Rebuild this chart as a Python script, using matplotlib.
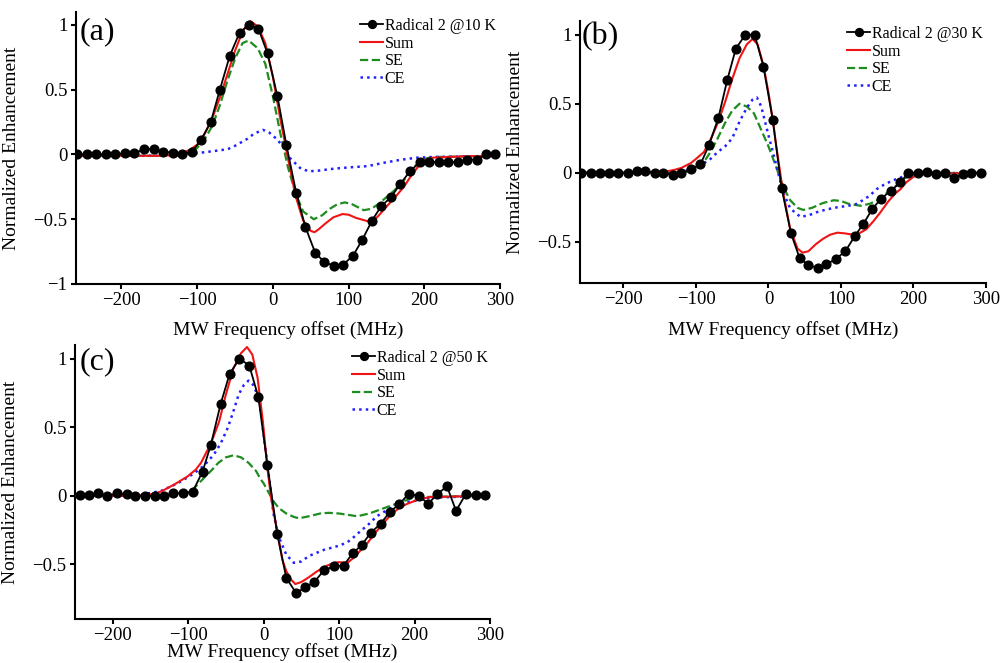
import matplotlib
matplotlib.use("Agg")
import matplotlib.pyplot as plt

plt.rcParams['font.family'] = ['Liberation Serif', 'DejaVu Serif']
plt.rcParams['mathtext.fontset'] = 'stix'

# ---------------- Panel (a): 10 K ----------------
exp_a_x = [-259, -246, -233, -221, -208, -195, -183, -170, -157, -145, -132, -120, -107, -95, -82,
           -70, -57, -44, -32, -19, -7, 6, 18, 31, 43, 56, 68, 81, 93, 106, 118, 131, 143, 156,
           168, 181, 194, 206, 219, 231, 244, 256, 269, 282, 294]
exp_a_y = [0, 0, 0, 0, 0, 0.01, 0.01, 0.04, 0.045, 0.02, 0.015, 0, 0.02, 0.11, 0.25,
           0.5, 0.76, 0.94, 1.0, 0.97, 0.78, 0.45, 0.07, -0.3, -0.56, -0.76, -0.83, -0.86, -0.85,
           -0.78, -0.66, -0.51, -0.40, -0.33, -0.23, -0.13, -0.06, -0.06, -0.06, -0.06, -0.06,
           -0.04, -0.04, 0, 0]

sum_a_x = [-260, -200, -150, -130, -120, -110, -100, -90, -80, -70, -60, -50, -40, -30, -20, -10,
           0, 10, 20, 30, 40, 50, 55, 60, 70, 80, 92, 100, 110, 125, 135, 140, 152, 160, 173, 182,
           191, 200, 210, 250, 300]
sum_a_y = [-0.01, -0.01, -0.01, -0.005, 0.01, 0.035, 0.075, 0.16, 0.28, 0.44, 0.62, 0.8, 0.95,
           1.03, 0.99, 0.86, 0.6, 0.27, -0.03, -0.32, -0.51, -0.59, -0.6, -0.58, -0.53, -0.485,
           -0.46, -0.465, -0.49, -0.515, -0.5, -0.47, -0.39, -0.34, -0.25, -0.17, -0.1, -0.045,
           -0.025, -0.015, -0.01]

se_a_x = [-260, -120, -110, -100, -90, -80, -70, -60, -50, -40, -32, -20, -10, 0, 10, 20, 30, 40,
          54, 65, 75, 85, 95, 105, 120, 130, 140, 150, 160, 173, 182, 191, 200, 210, 300]
se_a_y = [-0.01, -0.01, 0.01, 0.05, 0.12, 0.22, 0.38, 0.57, 0.74, 0.86, 0.88, 0.82, 0.7, 0.45,
          0.16, -0.1, -0.3, -0.44, -0.5, -0.47, -0.42, -0.385, -0.37, -0.385, -0.43, -0.42,
          -0.38, -0.33, -0.28, -0.2, -0.13, -0.07, -0.035, -0.02, -0.01]

ce_a_x = [-260, -150, -120, -100, -80, -60, -52, -40, -34, -25, -13, -5, 5, 15, 23, 37, 48, 60,
          80, 100, 125, 150, 170, 190, 210, 300]
ce_a_y = [-0.01, -0.01, 0, 0.01, 0.025, 0.04, 0.06, 0.1, 0.12, 0.16, 0.19, 0.17, 0.12, 0.05,
          -0.03, -0.11, -0.13, -0.125, -0.11, -0.1, -0.09, -0.06, -0.04, -0.025, -0.02, -0.01]

# ---------------- Panel (b): 30 K ----------------
exp_b_x = [-258, -245, -232, -220, -207, -194, -182, -170, -157, -145, -132, -120, -107, -94, -82,
           -69, -57, -45, -32, -19, -7, 6, 18, 31, 43, 55, 68, 80, 93, 106, 119, 131, 143, 155,
           169, 182, 193, 206, 218, 231, 244, 256, 268, 280, 293]
exp_b_y = [0, 0, 0, 0, 0, 0, 0.01, 0.01, 0, -0.005, -0.015, 0, 0.025, 0.06, 0.2, 0.4, 0.67, 0.9,
           1.0, 1.0, 0.77, 0.38, -0.11, -0.44, -0.62, -0.67, -0.69, -0.665, -0.625, -0.57, -0.46,
           -0.37, -0.265, -0.19, -0.13, -0.07, 0, 0, 0.005, -0.007, -0.005, -0.04, -0.007, 0, 0]

sum_b_x = [-260, -160, -140, -130, -120, -107, -100, -89, -80, -70, -60, -50, -40, -30, -22, -15,
           -7, 0, 6, 10, 20, 30, 40, 47, 55, 65, 75, 85, 95, 105, 117, 125, 135, 145, 154, 165,
           175, 182, 190, 200, 209, 230, 300]
sum_b_y = [0, 0, 0.01, 0.02, 0.035, 0.07, 0.1, 0.15, 0.24, 0.36, 0.51, 0.68, 0.83, 0.93, 0.97,
           0.93, 0.78, 0.58, 0.38, 0.22, -0.14, -0.41, -0.55, -0.58, -0.57, -0.52, -0.48, -0.45,
           -0.435, -0.44, -0.45, -0.44, -0.41, -0.35, -0.29, -0.21, -0.15, -0.12, -0.07, -0.03,
           -0.01, -0.005, -0.005]

se_b_x = [-260, -120, -110, -100, -90, -80, -70, -60, -50, -40, -30, -20, -10, 0, 10, 20, 30,
          40, 48, 60, 75, 90, 100, 110, 127, 140, 150, 164, 175, 185, 195, 210, 300]
se_b_y = [0, 0, 0.01, 0.03, 0.07, 0.15, 0.25, 0.36, 0.45, 0.5, 0.48, 0.43, 0.31, 0.19, 0.05,
          -0.1, -0.2, -0.255, -0.27, -0.255, -0.22, -0.2, -0.205, -0.225, -0.24, -0.225, -0.2,
          -0.145, -0.1, -0.05, -0.02, -0.005, 0]

ce_b_x = [-260, -130, -120, -110, -100, -90, -80, -70, -60, -50, -40, -30, -22, -16, -10, 0, 10,
          20, 30, 44, 55, 70, 90, 110, 120, 130, 140, 149, 160, 172, 185, 200, 220, 300]
ce_b_y = [0, 0, 0.01, 0.02, 0.04, 0.065, 0.1, 0.15, 0.19, 0.25, 0.37, 0.47, 0.53, 0.545, 0.48,
          0.27, 0.07, -0.14, -0.26, -0.32, -0.31, -0.28, -0.255, -0.24, -0.23, -0.2, -0.165,
          -0.12, -0.085, -0.055, -0.03, -0.015, -0.005, 0]

# ---------------- Panel (c): 50 K ----------------
exp_c_x = [-244, -232, -219, -207, -194, -181, -170, -157, -144, -132, -120, -107, -94, -81, -70,
           -57, -45, -32, -19, -7, 5, 18, 30, 43, 55, 67, 80, 93, 106, 118, 130, 142, 155, 167,
           180, 192, 206, 218, 230, 243, 255, 268, 281, 294]
exp_c_y = [0.005, 0.007, 0.017, 0, 0.017, 0.01, 0, 0, -0.005, -0.005, 0.017, 0.017, 0.03, 0.175,
           0.37, 0.67, 0.89, 1.0, 0.95, 0.72, 0.225, -0.28, -0.6, -0.71, -0.67, -0.63, -0.545,
           -0.515, -0.51, -0.42, -0.36, -0.27, -0.205, -0.12, -0.06, 0.012, 0, -0.06, 0.012,
           0.068, -0.11, 0.012, 0.005, 0.007]

sum_c_x = [-250, -170, -150, -136, -119, -101, -90, -83, -70, -59, -50, -40, -30, -22, -15, -8,
           -1, 5, 10, 16, 25, 30, 36, 42, 50, 60, 70, 80, 93, 100, 111, 120, 130, 137, 148, 159,
           170, 181, 190, 204, 220, 300]
sum_c_y = [0, 0, 0.01, 0.03, 0.08, 0.14, 0.19, 0.24, 0.38, 0.54, 0.74, 0.93, 1.04, 1.085, 1.03,
           0.86, 0.54, 0.2, -0.02, -0.2, -0.47, -0.55, -0.61, -0.645, -0.63, -0.595, -0.555,
           -0.52, -0.49, -0.485, -0.49, -0.45, -0.39, -0.35, -0.27, -0.2, -0.13, -0.085, -0.06,
           -0.03, -0.01, 0]

se_c_x = [-250, -110, -100, -93, -79, -70, -60, -50, -40, -30, -20, -10, -4, 0, 5, 13, 20, 30,
          40, 47, 60, 75, 86, 100, 112, 124, 140, 155, 170, 181, 195, 210, 300]
se_c_y = [0, 0, 0.02, 0.05, 0.13, 0.18, 0.24, 0.28, 0.295, 0.28, 0.24, 0.18, 0.12, 0.09, 0.04,
          -0.04, -0.09, -0.13, -0.155, -0.165, -0.15, -0.13, -0.125, -0.13, -0.14, -0.15,
          -0.13, -0.1, -0.07, -0.05, -0.02, -0.01, 0]

ce_c_x = [-250, -180, -160, -136, -114, -93, -79, -66, -57, -48, -41, -33, -26, -20, -14, -6, 5,
          13, 20, 30, 40, 50, 60, 80, 100, 111, 120, 130, 137, 150, 168, 185, 204, 220, 300]
ce_c_y = [0, 0, 0.01, 0.035, 0.09, 0.16, 0.22, 0.3, 0.38, 0.49, 0.6, 0.74, 0.81, 0.84, 0.81,
          0.71, 0.23, -0.13, -0.3, -0.43, -0.49, -0.48, -0.44, -0.395, -0.365, -0.34, -0.3,
          -0.25, -0.22, -0.15, -0.09, -0.05, -0.035, -0.015, 0]

# ---------------- labels / ticks ----------------
exp_labels = ['Radical 2 @10 K', 'Radical 2 @30 K', 'Radical 2 @50 K']
model_labels = ['Sum', 'SE', 'CE']
panel_tags = ['(a)', '(b)', '(c)']
x_ticks = [-200, -100, 0, 100, 200, 300]
x_ticklabels = ['\u2212200', '\u2212100', '0', '100', '200', '300']
y_ticks_a = [-1, -0.5, 0, 0.5, 1]
y_ticklabels_a = ['\u22121', '\u22120.5', '0', '0.5', '1']
y_ticks_bc = [-0.5, 0, 0.5, 1]
y_ticklabels_bc = ['\u22120.5', '0', '0.5', '1']
xlabel = 'MW Frequency offset (MHz)'
ylabel = 'Normalized Enhancement'

W, H = 1003, 663
fig = plt.figure(figsize=(W / 100, H / 100), dpi=100)

def px_rect(l, t, r, b):
    return [l / W, 1 - b / H, (r - l) / W, (b - t) / H]

panels = [
    dict(rect=px_rect(76, 12, 500, 284), xlim=(-260, 300), ylim=(-1, 1.1),
         yt=y_ticks_a, ytl=y_ticklabels_a,
         data=(exp_a_x, exp_a_y, sum_a_x, sum_a_y, se_a_x, se_a_y, ce_a_x, ce_a_y),
         leg=(360, 18), tag=(80, 17), ylc=-0.132, xlc=-0.137),
    dict(rect=px_rect(580, 21, 986, 283), xlim=(-260, 300), ylim=(-0.8, 1.1),
         yt=y_ticks_bc, ytl=y_ticklabels_bc,
         data=(exp_b_x, exp_b_y, sum_b_x, sum_b_y, se_b_x, se_b_y, ce_b_x, ce_b_y),
         leg=(847, 26), tag=(582, 22), ylc=-0.138, xlc=-0.146),
    dict(rect=px_rect(75, 345, 490, 619), xlim=(-250, 300), ylim=(-0.9, 1.1),
         yt=y_ticks_bc, ytl=y_ticklabels_bc,
         data=(exp_c_x, exp_c_y, sum_c_x, sum_c_y, se_c_x, se_c_y, ce_c_x, ce_c_y),
         leg=(352, 350), tag=(80, 347), ylc=-0.134, xlc=-0.088),
]

c_red = '#f01414'
c_green = '#1e8c1e'
c_blue = '#2222ff'

for i, p in enumerate(panels):
    ax = fig.add_axes(p['rect'])
    ex, ey, sx, sy, gx, gy, bx, by = p['data']
    ax.plot(gx, gy, linestyle='--', color=c_green, lw=1.6, zorder=2, label=model_labels[1])
    ax.plot(bx, by, linestyle=':', color=c_blue, lw=1.8, zorder=2, label=model_labels[2])
    ax.plot(sx, sy, linestyle='-', color=c_red, lw=1.5, zorder=3, label=model_labels[0])
    ax.plot(ex, ey, '-o', color='black', lw=1.3, ms=6.3, zorder=4, label=exp_labels[i])
    ax.set_xlim(*p['xlim'])
    ax.set_ylim(*p['ylim'])
    ax.set_xticks(x_ticks)
    ax.set_xticklabels(x_ticklabels)
    ax.set_yticks(p['yt'])
    ax.set_yticklabels(p['ytl'])
    for s in ['top', 'right']:
        ax.spines[s].set_visible(False)
    for s in ['left', 'bottom']:
        ax.spines[s].set_linewidth(1.5)
    ax.tick_params(direction='out', length=3.6, width=1.5, labelsize=13.5, pad=2.5)
    ax.set_xlabel(xlabel, fontsize=14)
    ax.set_ylabel(ylabel, fontsize=14)
    ax.yaxis.set_label_coords(p['ylc'], 0.5)
    ax.xaxis.set_label_coords(0.5, p['xlc'])
    ax.set_facecolor('none')

    h, l = ax.get_legend_handles_labels()
    order = [3, 2, 0, 1]
    ax.legend([h[k] for k in order], [l[k] for k in order], loc='upper left',
              bbox_to_anchor=(p['leg'][0] / W, 1 - p['leg'][1] / H),
              bbox_transform=fig.transFigure, frameon=False, fontsize=11.5,
              borderpad=0, borderaxespad=0, handlelength=1.45, handletextpad=0.1,
              labelspacing=0.1, markerscale=0.9)
    fig.text(p['tag'][0] / W, 1 - p['tag'][1] / H, panel_tags[i], fontsize=23,
             ha='left', va='top')

fig.savefig('out.png', dpi=100)
